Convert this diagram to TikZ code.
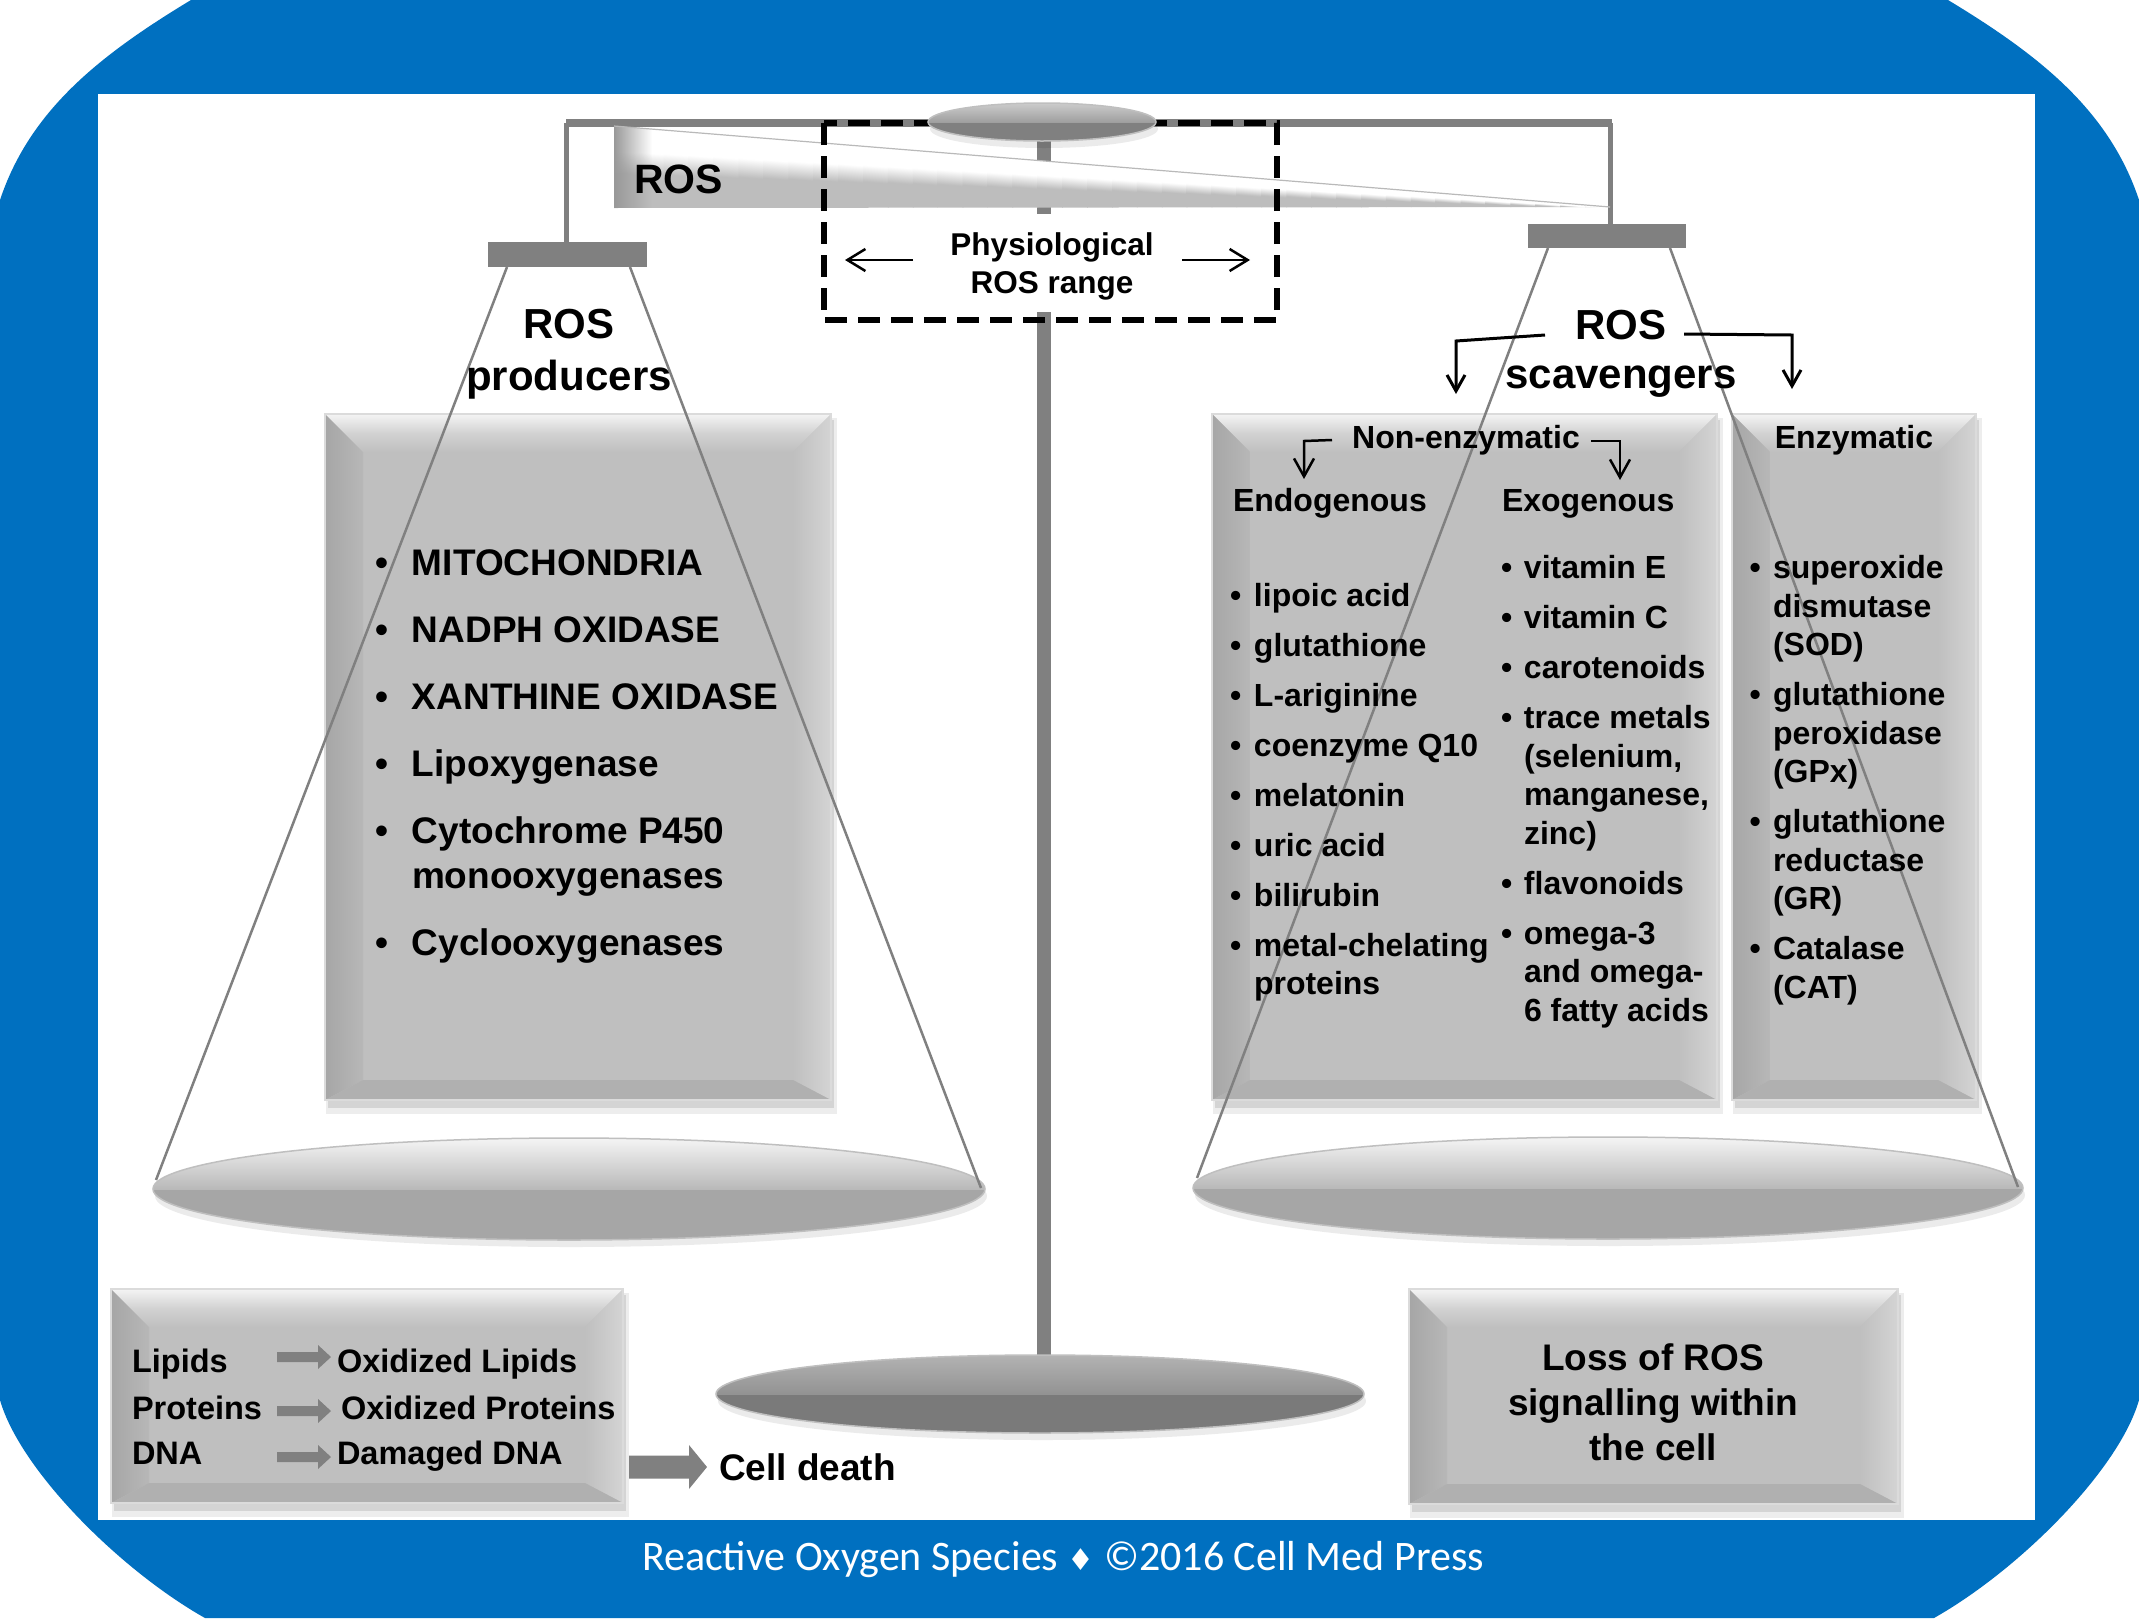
\documentclass[tikz,border=0pt]{standalone}
\usepackage{fontspec}
\setmainfont{Liberation Sans}
\newfontfamily\footfont{Carlito}
\newfontfamily\symbfont{DejaVu Sans}
\usetikzlibrary{arrows.meta,fadings}
\definecolor{cmblue}{HTML}{0070C0}
\definecolor{panelgray}{HTML}{BFBFBF}
\definecolor{midgray}{HTML}{808080}
\definecolor{wgray}{HTML}{BDBDBD}
\definecolor{bevtop}{HTML}{F4F4F4}
\definecolor{bevleft}{HTML}{A6A6A6}
\definecolor{bevright}{HTML}{D4D4D4}
\definecolor{bevbot}{HTML}{B0B0B0}
\pgfdeclareverticalshading{wedgeshade}{100bp}{color(0bp)=(wgray); color(47bp)=(wgray); color(60bp)=(white); color(100bp)=(white)}
\tikzfading[name=wedgefade, left color=transparent!0, right color=transparent!100]

\newcommand\bul[1]{\makebox[#1][l]{•}}
\newcommand\fs[2]{\fontsize{#1}{#2}\selectfont}

% name x1 y1 x2 y2
\newcommand\bevpanel[5]{%
  \fill[black,opacity=0.07] (#2+1,#3+4) rectangle (#4+6,#5+14);
  \fill[black,opacity=0.10] (#2+3,#3+6) rectangle (#4+3,#5+8);
  \node[panelnode, minimum width={#4pt-#2pt}, minimum height={#5pt-#3pt}] (#1) at ({(#2+#4)/2},{(#3+#5)/2}) {};
  \shade[top color=bevtop, bottom color=panelgray, middle color=panelgray!70!white] (#2,#3) -- (#4,#3) -- (#4-38,#3+38) -- (#2+38,#3+38) -- cycle;
  \shade[left color=bevleft, right color=panelgray!96!black] (#2,#3) -- (#2+38,#3+38) -- (#2+38,#5-20) -- (#2,#5) -- cycle;
  \shade[left color=panelgray, right color=bevright] (#4,#3) -- (#4-38,#3+38) -- (#4-38,#5-20) -- (#4,#5) -- cycle;
  \fill[bevbot] (#2,#5) -- (#2+38,#5-20) -- (#4-38,#5-20) -- (#4,#5) -- cycle;
  \draw[white!86!black, line width=1.5] (#2,#3) rectangle (#4,#5);
}
% cx cy rx ry topcolor midcolor bottomcolor
\newcommand\pandisk[7]{%
  \fill[black,opacity=0.08] (#1+2,#2+7) ellipse [x radius=#3pt, y radius=#4pt];
  \begin{scope}
    \clip (#1,#2) ellipse [x radius=#3pt, y radius=#4pt];
    \fill[#7] (#1-#3,#2-#4) rectangle (#1+#3,#2+#4);
    \shade[top color=#5, bottom color=#6] (#1-#3,#2-#4) rectangle (#1+#3,#2);
  \end{scope}
  \draw[white!75!black, line width=1.5] (#1,#2) ellipse [x radius=#3pt, y radius=#4pt];
}
% x1 xtip xheadstart yc shafthalf headhalf
\newcommand\blockarrow[6]{%
  \fill[midgray] (#1,#4-#5) -- (#3,#4-#5) -- (#3,#4-#6) -- (#2,#4) -- (#3,#4+#6) -- (#3,#4+#5) -- (#1,#4+#5) -- cycle;
}

\tikzset{
  panelnode/.style={rectangle, fill=panelgray, inner sep=0pt, outer sep=0pt},
  platenode/.style={rectangle, fill=midgray, inner sep=0pt, outer sep=0pt},
  lbl/.style={inner sep=0pt, outer sep=0pt, text=black, font=\bfseries},
  cone/.style={midgray, line width=2.5},
  branch/.style={black, line width=3, -{Straight Barb[length=16pt,width=18pt]}},
  subbranch/.style={black, line width=2.5, -{Straight Barb[length=18pt,width=20pt]}},
  rangearrow/.style={black, line width=2.5, -{Straight Barb[length=18pt,width=22pt]}},
}

\begin{document}
\begin{tikzpicture}[x=1pt,y=-1pt]
\useasboundingbox (0,0) rectangle (2139,1618);
\fill[white] (0,0) rectangle (2139,1618);
\fill[cmblue] (191,0) -- (1948,0) .. controls (2039,55) and (2109,110) .. (2139,200) -- (2139,1400) .. controls (2119,1470) and (2019,1570) .. (1934,1618) -- (205,1618) .. controls (120,1570) and (20,1470) .. (0,1400) -- (0,200) .. controls (30,110) and (100,55) .. (191,0) -- cycle;
\fill[white] (98,94) rectangle (2035,1520);

% ---- central pole and beam
\coordinate (poletop) at (1044,135);
\coordinate (polebot) at (1044,1370);
\draw[midgray, line width=14] (poletop) -- (polebot);
\fill[midgray] (566,119) rectangle (1612,127);
\coordinate (hangLtop) at (566,123);
\coordinate (hangRtop) at (1610,123);

% ---- plates
\node[platenode, minimum width=159pt, minimum height=25pt] (plateL) at (567.5,254.5) {};
\node[platenode, minimum width=158pt, minimum height=24pt] (plateR) at (1607,236) {};
\draw[midgray, line width=5] (hangLtop) -- (plateL.north -| hangLtop);
\draw[midgray, line width=5] (hangRtop) -- (plateR.north -| hangRtop);

% ---- ROS wedge (sheared so that its upper edge is horizontal; shaded strip by strip)
\begin{scope}[transform canvas={yslant=-0.08133}]
  \clip (614,76.06) -- (1610,76.06) -- (614,158.06) -- cycle;
  \foreach \i in {0,...,39} {
    \pgfmathsetmacro\xa{614+\i*24.9}
    \pgfmathsetmacro\xb{\xa+25.6}
    \pgfmathsetmacro\yb{76.06+82*(1-\i/40)+1}
    \shade[shading=wedgeshade] (\xa,76.06) rectangle (\xb,\yb);
  }
\end{scope}
\begin{scope}
  \clip (614,126) -- (1610,207) -- (614,208) -- cycle;
  \fill[gray!80, path fading=wedgefade] (614,126) rectangle (652,208);
\end{scope}
\draw[gray!55, line width=1.2] (614,126) -- (1610,207);
\node[lbl, anchor=base west, font=\bfseries\fs{41}{50}] (wedgeros) at (634,193) {ROS};

% ---- physiological range box
\fill[white] (848,214) rectangle (1254,312);
\draw[black, line width=6, dash pattern=on 22 off 11] (824,123) rectangle (1277,320);
\node[lbl, anchor=base, font=\bfseries\fs{31.5}{38}] (physio) at (1052,255)
  {\begin{tabular}[t]{@{}c@{}}Physiological\\ROS range\end{tabular}};
\coordinate (rangeLs) at (913,260);
\coordinate (rangeLe) at (845,260);
\coordinate (rangeRs) at (1182,260);
\coordinate (rangeRe) at (1250,260);
\draw[rangearrow] (rangeLs) -- (rangeLe);
\draw[rangearrow] (rangeRs) -- (rangeRe);

% ---- pivot
\pandisk{1042}{122}{114}{19}{gray!40}{gray!75}{midgray}

% ---- panels
\bevpanel{prod}{325}{414}{831}{1100}
\bevpanel{nonenz}{1212}{414}{1717}{1100}
\bevpanel{enz}{1732}{414}{1976}{1100}
\bevpanel{damage}{111}{1289}{623}{1503}
\bevpanel{loss}{1409}{1289}{1898}{1504}

% ---- pans
\pandisk{569}{1189}{416}{51}{white!96!black}{gray!55}{gray!70}
\pandisk{1608}{1188}{415}{51}{white!96!black}{gray!55}{gray!70}
\pandisk{1040}{1394}{324}{39}{gray!60}{gray!85}{midgray!95!black}

% ---- cone strings
\coordinate (panLw) at (156,1180);
\coordinate (panLe) at (981,1188);
\coordinate (panRw) at (1197,1178);
\coordinate (panRe) at (2018,1187);
\draw[cone] ([xshift=-60.5pt]plateL.south) -- (panLw);
\draw[cone] ([xshift=62.5pt]plateL.south) -- (panLe);
\draw[cone] ([xshift=-59pt]plateR.south) -- (panRw);
\draw[cone] ([xshift=63pt]plateR.south) -- (panRe);

% ---- headings
\node[lbl, anchor=base, font=\bfseries\fs{42}{52}] (producers) at (569,338)
  {\begin{tabular}[t]{@{}c@{}}ROS\\producers\end{tabular}};
\node[lbl, anchor=base, font=\bfseries\fs{42}{49}] (scavengers) at (1621,339)
  {\begin{tabular}[t]{@{}c@{}}ROS\\scavengers\end{tabular}};

\coordinate (brLa) at (1545,335);
\coordinate (brLb) at (1456,341);
\coordinate (brLc) at (1456,394);
\coordinate (brRa) at (1684,334);
\coordinate (brRb) at (1792,335);
\coordinate (brRc) at (1792,389);
\draw[branch] (brLa) -- (brLb) -- (brLc);
\draw[branch] (brRa) -- (brRb) -- (brRc);

% ---- producers list
\node[lbl, anchor=base west, font=\bfseries\fs{37}{45}] (prodlist) at (375,575)
  {\begin{tabular}[t]{@{}l@{}l@{}}
   \bul{37pt}& MITOCHONDRIA\\[22pt]
   \bul{37pt}& NADPH OXIDASE\\[22pt]
   \bul{37pt}& XANTHINE OXIDASE\\[22pt]
   \bul{37pt}& Lipoxygenase\\[22pt]
   \bul{37pt}& Cytochrome P450\\
             & monooxygenases\\[22pt]
   \bul{37pt}& Cyclooxygenases
  \end{tabular}};

% ---- scavenger lists
\node[lbl, anchor=base, font=\bfseries\fs{32}{38.5}] (nonenzhead) at (1466,448) {Non-enzymatic};
\node[lbl, anchor=base, font=\bfseries\fs{32}{38.5}] (enzhead) at (1854,448) {Enzymatic};
\coordinate (neLa) at (1332,440);
\coordinate (neLb) at (1304,441);
\coordinate (neLc) at (1304,479);
\coordinate (neRa) at (1591,441);
\coordinate (neRb) at (1620,441);
\coordinate (neRc) at (1620,480);
\draw[subbranch] (neLa) -- (neLb) -- (neLc);
\draw[subbranch] (neRa) -- (neRb) -- (neRc);
\node[lbl, anchor=base west, font=\bfseries\fs{32}{38.5}] (endohead) at (1233,511.6) {Endogenous};
\node[lbl, anchor=base west, font=\bfseries\fs{32}{38.5}] (exohead) at (1502,511.6) {Exogenous};

\node[lbl, anchor=base west, font=\bfseries\fs{32}{38.5}] (endolist) at (1230,606)
  {\begin{tabular}[t]{@{}l@{}l@{}}
   \bul{24pt}& lipoic acid\\[11.5pt]
   \bul{24pt}& glutathione\\[11.5pt]
   \bul{24pt}& L-ariginine\\[11.5pt]
   \bul{24pt}& coenzyme Q10\\[11.5pt]
   \bul{24pt}& melatonin\\[11.5pt]
   \bul{24pt}& uric acid\\[11.5pt]
   \bul{24pt}& bilirubin\\[11.5pt]
   \bul{24pt}& metal-chelating\\
             & proteins
  \end{tabular}};

\node[lbl, anchor=base west, font=\bfseries\fs{32}{38.5}] (exolist) at (1501,578.6)
  {\begin{tabular}[t]{@{}l@{}l@{}}
   \bul{23pt}& vitamin E\\[11.5pt]
   \bul{23pt}& vitamin C\\[11.5pt]
   \bul{23pt}& carotenoids\\[11.5pt]
   \bul{23pt}& trace metals\\
             & (selenium,\\
             & manganese,\\
             & zinc)\\[11.5pt]
   \bul{23pt}& flavonoids\\[11.5pt]
   \bul{23pt}& omega-3\\
             & and omega-\\
             & 6 fatty acids
  \end{tabular}};

\node[lbl, anchor=base west, font=\bfseries\fs{32}{38.5}] (enzlist) at (1749.5,578.6)
  {\begin{tabular}[t]{@{}l@{}l@{}}
   \bul{23.5pt}& superoxide\\
               & dismutase\\
               & (SOD)\\[11.5pt]
   \bul{23.5pt}& glutathione\\
               & peroxidase\\
               & (GPx)\\[11.5pt]
   \bul{23.5pt}& glutathione\\
               & reductase\\
               & (GR)\\[11.5pt]
   \bul{23.5pt}& Catalase\\
               & (CAT)
  \end{tabular}};

% ---- bottom left: damage
\node[lbl, anchor=base west, font=\bfseries\fs{32.5}{38}] (lipids) at (132,1372) {Lipids};
\node[lbl, anchor=base west, font=\bfseries\fs{32.5}{38}] (proteins) at (132,1419) {Proteins};
\node[lbl, anchor=base west, font=\bfseries\fs{32.5}{38}] (dna) at (132,1464) {DNA};
\node[lbl, anchor=base west, font=\bfseries\fs{32.5}{38}] (oxlipids) at (337,1372) {Oxidized Lipids};
\node[lbl, anchor=base west, font=\bfseries\fs{32.5}{38}] (oxproteins) at (341,1419) {Oxidized Proteins};
\node[lbl, anchor=base west, font=\bfseries\fs{32.5}{38}] (damdna) at (337,1464) {Damaged DNA};
\blockarrow{277}{331}{318}{1357}{5}{12}
\blockarrow{277}{331}{318}{1411}{5}{12}
\blockarrow{277}{331}{318}{1457}{5}{12}
\blockarrow{629}{707}{689}{1467}{11.5}{22}
\node[lbl, anchor=base west, font=\bfseries\fs{37}{45}] (celldeath) at (719,1480) {Cell death};

% ---- bottom right
\node[lbl, anchor=base, font=\bfseries\fs{37}{45}] (lossros) at (1653,1370)
  {\begin{tabular}[t]{@{}c@{}}Loss of ROS\\signalling within\\the cell\end{tabular}};

% ---- footer
\node[inner sep=0pt, anchor=base, text=white, font=\footfont\fs{42}{50}] (footer) at (1063,1570)
  {Reactive Oxygen Species {\symbfont\fs{30}{36}♦} ©2016 Cell Med Press};
\end{tikzpicture}
\end{document}
